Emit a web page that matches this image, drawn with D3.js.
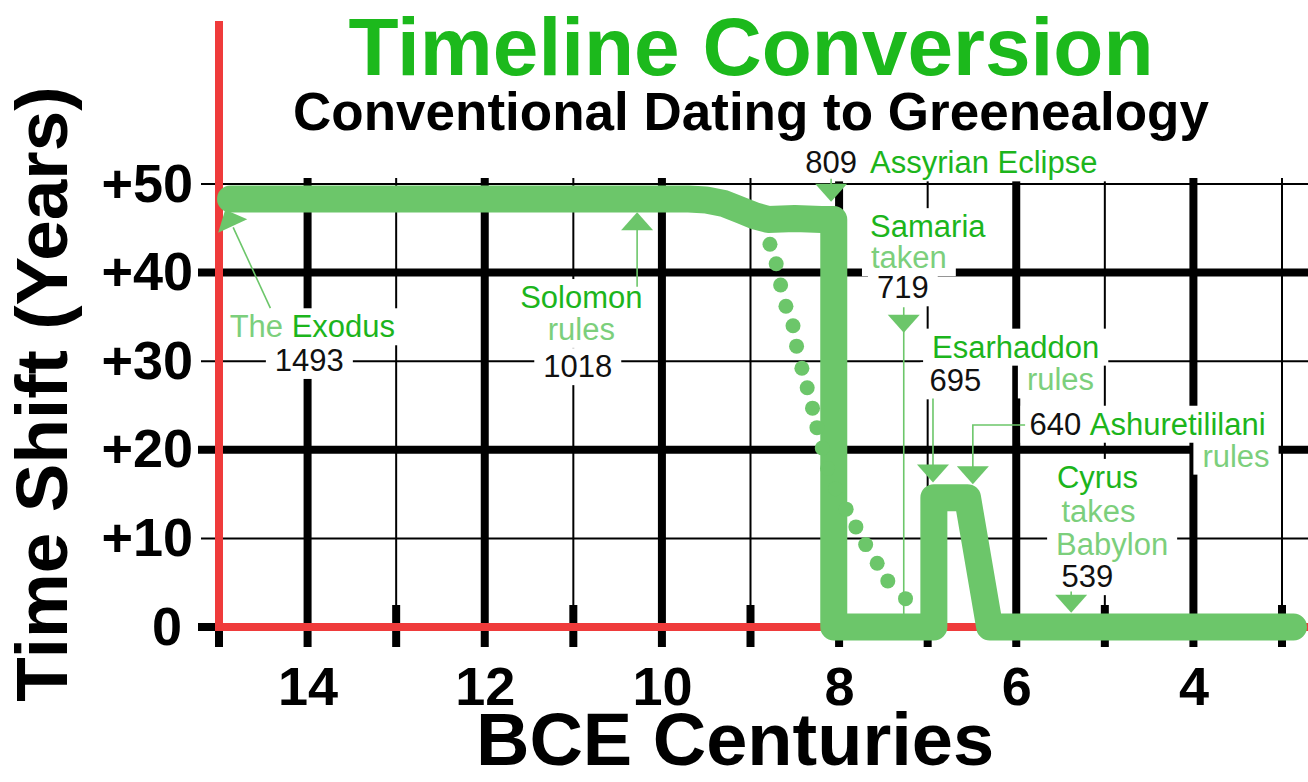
<!DOCTYPE html>
<html>
<head>
<meta charset="utf-8">
<script src="https://cdn.jsdelivr.net/npm/d3@7/dist/d3.min.js"></script>
<style>
  body { margin: 0; background: #fff; }
  svg { display: block; font-family: "Liberation Sans", Arial, sans-serif; }
  text { white-space: pre; }
</style>
</head>
<body>
<div id="viz"></div>
<script>
// ---- data ----
var centuries = [15, 14, 13, 12, 11, 10, 9, 8, 7, 6, 5, 4, 3];
var centuryLabels = [14, 12, 10, 8, 6, 4];
var shiftTicks = [0, 10, 20, 30, 40, 50];

// thick conversion curve: [century BCE, time shift in years]
var conversion = [
    [14.87, 48.3], [9.7, 48.3], [9.5, 48.2], [9.3, 47.8], [9.1, 47.0],
    [8.95, 46.4], [8.8, 46.0], [8.5, 46.1], [8.2, 46.0], [8.06, 46.0],
    [8.06, 0], [6.93, 0], [6.93, 14.6], [6.55, 14.6], [6.30, 0], [2.87, 0]
];

// dotted curve
var dotted = [
    [8.78, 43.2], [8.71, 41.0], [8.66, 38.6], [8.60, 36.2], [8.52, 34.0],
    [8.48, 31.7], [8.42, 29.2], [8.36, 27.0], [8.30, 24.7], [8.25, 22.5],
    [8.19, 20.2], [8.13, 17.9], [8.04, 15.6], [7.92, 13.3], [7.81, 11.3],
    [7.70, 9.3], [7.57, 7.2], [7.45, 5.2], [7.25, 3.2]
];

// event labels (anchored in chart units: century, shift)
var notes = [
    {parts: [["The", "light"], [" Exodus", "dark"]], at: [14.88, 32.7], anchor: "start"},
    {parts: [["1493", "year"]], at: [13.98, 28.9], anchor: "middle"},
    {parts: [["Solomon", "dark"]], at: [10.91, 36.0], anchor: "middle"},
    {parts: [["rules", "light"]], at: [10.91, 32.4], anchor: "middle"},
    {parts: [["1018", "year"]], at: [10.95, 28.2], anchor: "middle"},
    {parts: [["809", "year"]], at: [8.09, 51.2], anchor: "middle"},
    {parts: [["Assyrian Eclipse", "dark"]], at: [7.65, 51.2], anchor: "start"},
    {parts: [["Samaria", "dark"]], at: [7.65, 44.0], anchor: "start"},
    {parts: [["taken", "light"]], at: [7.64, 40.5], anchor: "start"},
    {parts: [["719", "year"]], at: [7.28, 37.1], anchor: "middle"},
    {parts: [["Esarhaddon", "dark"]], at: [6.95, 30.4], anchor: "start"},
    {parts: [["695", "year"]], at: [6.98, 26.6], anchor: "start"},
    {parts: [["rules", "light"]], at: [5.88, 26.7], anchor: "start"},
    {parts: [["640", "year"]], at: [5.85, 21.7], anchor: "start"},
    {parts: [["Ashuretililani", "dark"]], at: [5.17, 21.7], anchor: "start"},
    {parts: [["rules", "light"]], at: [3.14, 18.1], anchor: "end"},
    {parts: [["Cyrus", "dark"]], at: [5.54, 15.7], anchor: "start"},
    {parts: [["takes", "light"]], at: [5.49, 11.9], anchor: "start"},
    {parts: [["Babylon", "light"]], at: [5.55, 8.1], anchor: "start"},
    {parts: [["539", "year"]], at: [5.49, 4.5], anchor: "start"}
];

// pointers: leader line, arrow tip and the point it comes from
var arrows = [
    {line: [[14.42, 36.0], [14.84, 45.1]], tip: [14.93, 47.1], back: [14.42, 36.0]},
    {line: [[10.28, 38.4], [10.28, 46.0]], tip: [10.28, 46.8], back: [10.28, 38.4]},
    {line: [[8.09, 50.6], [8.09, 49.0]], tip: [8.09, 48.0], back: [8.09, 50.6]},
    {line: [[7.27, 36.1], [7.27, 0]], tip: [7.27, 33.2], back: [7.27, 36.1]},
    {line: [[6.94, 25.8], [6.94, 17.0]], tip: [6.94, 16.3], back: [6.94, 25.8]},
    {line: [[5.90, 22.8], [6.49, 22.8], [6.49, 17.0]], tip: [6.49, 16.1], back: [6.49, 22.8]},
    {line: [[5.38, 4.0], [5.38, 2.5]], tip: [5.38, 1.6], back: [5.38, 4.0]}
];

// ---- colours ----
var lineGreen = '#6cc66a';
var textColor = {dark: '#1cb51c', light: '#7ccf7c', year: '#111'};
var red = '#ef3b3b';

var W = 1308, H = 782;
var svg = d3.select('#viz').append('svg')
    .attr('width', W)
    .attr('height', H);

var x = d3.scaleLinear().domain([15, 3]).range([219, 1282]);
var y = d3.scaleLinear().domain([0, 50]).range([627, 184]);

var gridTop = y(50) - 6, gridBottom = y(0) + 20, stubTop = y(0) - 22;

// ---- grid ----
var grid = svg.append('g').attr('id', 'grid');
grid.selectAll('.hline')
    .data(shiftTicks)
    .enter().append('line')
    .attr('class', 'hline')
    .attr('x1', function(d) { return d % 20 == 0 ? x(15) - 21 : x(15) - 18; })
    .attr('x2', W)
    .attr('y1', function(d) { return y(d); })
    .attr('y2', function(d) { return y(d); })
    .attr('stroke', '#000')
    .attr('stroke-width', function(d) { return d % 20 == 0 ? 8 : 2; });

grid.selectAll('.vline')
    .data(centuries.filter(function(c) { return c != 15; }))
    .enter().append('line')
    .attr('class', 'vline')
    .attr('x1', function(d) { return x(d); })
    .attr('x2', function(d) { return x(d); })
    .attr('y1', gridTop)
    .attr('y2', function(d) { return d % 2 == 0 ? gridBottom : stubTop; })
    .attr('stroke', '#000')
    .attr('stroke-width', function(d) { return d % 2 == 0 ? 8 : 2; });

grid.selectAll('.stub')
    .data(centuries.filter(function(c) { return c % 2 == 1; }))
    .enter().append('line')
    .attr('class', 'stub')
    .attr('x1', function(d) { return x(d); })
    .attr('x2', function(d) { return x(d); })
    .attr('y1', stubTop)
    .attr('y2', gridBottom)
    .attr('stroke', '#000')
    .attr('stroke-width', 8);

var boxes = svg.append('g').attr('id', 'label-boxes');

// ---- red axes ----
svg.append('line')
    .attr('x1', x(15)).attr('x2', x(15))
    .attr('y1', 21).attr('y2', y(0) + 4)
    .attr('stroke', red).attr('stroke-width', 8);
svg.append('line')
    .attr('x1', x(15) - 4).attr('x2', W)
    .attr('y1', y(0)).attr('y2', y(0))
    .attr('stroke', red).attr('stroke-width', 8);

// ---- pointers ----
var valueline = d3.line()
    .x(function(d) { return x(d[0]); })
    .y(function(d) { return y(d[1]); });

var ptr = svg.append('g').attr('id', 'pointers');
arrows.forEach(function(a) {
    ptr.append('path')
        .attr('d', valueline(a.line))
        .attr('fill', 'none')
        .attr('stroke', lineGreen)
        .attr('stroke-width', 1.6);
    var tx = x(a.tip[0]), ty = y(a.tip[1]);
    var bx = x(a.back[0]), by = y(a.back[1]);
    var len = Math.sqrt((tx - bx) * (tx - bx) + (ty - by) * (ty - by));
    var ux = (tx - bx) / len, uy = (ty - by) / len;
    var cx = tx - ux * 18, cy = ty - uy * 18;
    var pts = [[tx, ty], [cx - uy * 16, cy + ux * 16], [cx + uy * 16, cy - ux * 16]];
    ptr.append('path')
        .attr('d', 'M' + pts.join('L') + 'Z')
        .attr('fill', lineGreen);
});

// ---- curves ----
svg.append('path')
    .attr('d', valueline(conversion))
    .attr('fill', 'none')
    .attr('stroke', lineGreen)
    .attr('stroke-width', 27)
    .attr('stroke-linecap', 'round')
    .attr('stroke-linejoin', 'round');

svg.append('g').selectAll('circle')
    .data(dotted)
    .enter().append('circle')
    .attr('cx', function(d) { return x(d[0]); })
    .attr('cy', function(d) { return y(d[1]); })
    .attr('r', 7.5)
    .attr('fill', lineGreen);

// ---- event labels ----
var lab = svg.append('g').attr('id', 'labels');
notes.forEach(function(n) {
    var t = lab.append('text')
        .attr('x', x(n.at[0]))
        .attr('y', y(n.at[1]))
        .attr('text-anchor', n.anchor)
        .style('font-size', '31px');
    n.parts.forEach(function(p) {
        t.append('tspan').attr('fill', textColor[p[1]]).text(p[0]);
    });
    var b = t.node().getBBox();
    boxes.append('rect')
        .attr('x', b.x - 9).attr('y', b.y - 1)
        .attr('width', b.width + 18).attr('height', b.height + 2)
        .attr('fill', '#fff');
});

// ---- axes ----
var yAxis = svg.append('g')
    .attr('transform', 'translate(193,0)')
    .call(d3.axisLeft(y).tickValues(shiftTicks).tickSize(0).tickPadding(0)
        .tickFormat(function(d) { return d ? '+' + d : '0'; }));
yAxis.select('.domain').remove();
yAxis.selectAll('text')
    .attr('dy', 17)
    .attr('dx', function(d) { return d ? 0 : -11; })
    .attr('fill', '#000')
    .style('font-family', '"Liberation Sans", Arial, sans-serif')
    .style('font-size', '54px')
    .style('font-weight', 'bold');

var xAxis = svg.append('g')
    .attr('transform', 'translate(0,667)')
    .call(d3.axisBottom(x).tickValues(centuryLabels).tickSize(0).tickPadding(0));
xAxis.select('.domain').remove();
xAxis.selectAll('text')
    .attr('fill', '#000')
    .style('font-family', '"Liberation Sans", Arial, sans-serif')
    .style('font-size', '54px')
    .style('font-weight', 'bold');

// ---- titles ----
svg.append('text')
    .attr('x', 751).attr('y', 75)
    .attr('text-anchor', 'middle')
    .attr('fill', '#1cb91c')
    .style('font-size', '82px')
    .style('font-weight', 'bold')
    .text('Timeline Conversion');

svg.append('text')
    .attr('x', 751).attr('y', 130)
    .attr('text-anchor', 'middle')
    .attr('fill', '#000')
    .style('font-size', '53px')
    .style('font-weight', 'bold')
    .text('Conventional Dating to Greenealogy');

svg.append('text')
    .attr('transform', 'translate(67,394) rotate(-90)')
    .attr('text-anchor', 'middle')
    .attr('fill', '#000')
    .style('font-size', '73px')
    .style('font-weight', 'bold')
    .text('Time Shift (Years)');

svg.append('text')
    .attr('x', 735).attr('y', 765)
    .attr('text-anchor', 'middle')
    .attr('fill', '#000')
    .style('font-size', '74px')
    .style('font-weight', 'bold')
    .text('BCE Centuries');
</script>
</body>
</html>
